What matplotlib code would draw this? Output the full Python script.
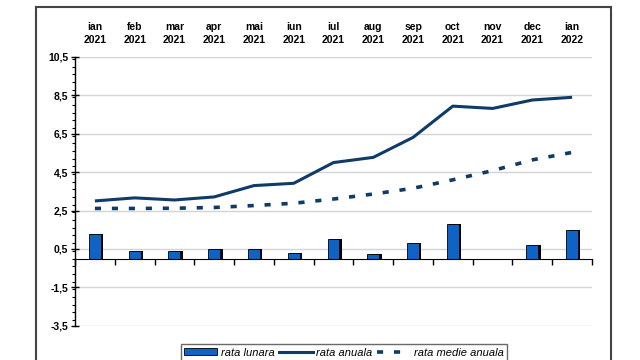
import numpy as np
import matplotlib.pyplot as plt
import matplotlib.patches as mpatches
import matplotlib.lines as mlines
from matplotlib.ticker import MultipleLocator, FixedLocator, NullFormatter
import matplotlib.transforms as mtransforms

plt.rcParams['font.family'] = ['Liberation Sans', 'DejaVu Sans']

# ── Data ──────────────────────────────────────────────────────────────
months = ["ian", "feb", "mar", "apr", "mai", "iun", "iul",
          "aug", "sep", "oct", "nov", "dec", "ian"]
years = ["2021"] * 12 + ["2022"]
rata_lunara = [1.26, 0.40, 0.40, 0.50, 0.50, 0.30, 1.00,
               0.21, 0.80, 1.82, 0.00, 0.70, 1.47]
rata_anuala = [3.00, 3.16, 3.05, 3.21, 3.80, 3.92, 5.00,
               5.27, 6.31, 7.94, 7.82, 8.26, 8.40]
rata_medie = [2.61, 2.61, 2.62, 2.66, 2.76, 2.88, 3.10,
              3.36, 3.66, 4.10, 4.58, 5.14, 5.53]

BAR_BLUE = "#0E63C4"
NAVY = "#0F3B69"
DASH = (0, (1.7, 3.0))

fig = plt.figure(figsize=(6.4, 3.6), dpi=100)
ax = fig.add_axes([75 / 640, 1 - 325.7 / 360, (592 - 75) / 640, (325.7 - 57) / 360])

x = np.arange(len(months))

# ── Grid ──────────────────────────────────────────────────────────────
ax.set_ylim(-3.5, 10.5)
ax.set_xlim(-0.5, len(months) - 0.5)
ax.yaxis.set_major_locator(FixedLocator(np.arange(-3.5, 10.6, 2.0)))
ax.yaxis.set_minor_locator(MultipleLocator(0.4))
ax.grid(axis='y', color='#D4D4D4', lw=1.0, zorder=0)
ax.set_yticklabels([f"{v:.1f}".replace('.', ',') for v in np.arange(-3.5, 10.6, 2.0)],
                   fontsize=7.5, fontweight='bold')
ax.tick_params(axis='y', which='major', direction='inout', length=6, width=1, pad=2)
ax.tick_params(axis='y', which='minor', direction='out', length=2.5, width=0.8)

# ── Bars with shadow ──────────────────────────────────────────────────
ax.bar(x + 0.06, rata_lunara, width=0.3, color='black', zorder=2)
ax.bar(x, rata_lunara, width=0.3, color=BAR_BLUE, edgecolor='black',
       linewidth=0.6, zorder=3)

# ── Lines ─────────────────────────────────────────────────────────────
ax.plot(x, rata_anuala, color=NAVY, lw=2.2, zorder=4, solid_capstyle='butt')
ax.plot(x, rata_medie, color=NAVY, lw=2.6, zorder=4, linestyle=DASH)

# ── Axes / spines ─────────────────────────────────────────────────────
for s in ['top', 'right']:
    ax.spines[s].set_visible(False)
ax.spines['bottom'].set_position(('data', 0))
ax.spines['bottom'].set_zorder(5)
ax.spines['left'].set_linewidth(1)
ax.xaxis.set_major_locator(FixedLocator(np.arange(-0.5, len(months), 1.0)))
ax.xaxis.set_major_formatter(NullFormatter())
ax.tick_params(axis='x', direction='out', length=4, width=1)

# ── Top category labels ───────────────────────────────────────────────
trans = mtransforms.blended_transform_factory(ax.transData, ax.transAxes)
for i, (m, yr) in enumerate(zip(months, years)):
    ax.text(i, 1.087, f"{m}\n{yr}", transform=trans, ha='center', va='center',
            fontsize=7.5, fontweight='bold', linespacing=1.4)

# ── Outer frame ───────────────────────────────────────────────────────
fx0, fx1, fy0 = 36 / 640, 611 / 640, 1 - 7 / 360
for xs, ys in [([fx0, fx1], [fy0, fy0]), ([fx0, fx0], [fy0, -0.1]), ([fx1, fx1], [fy0, -0.1])]:
    fig.add_artist(mlines.Line2D(xs, ys, color='#444444', lw=1.5))

# ── Legend ────────────────────────────────────────────────────────────
handles = [
    mpatches.Patch(facecolor=BAR_BLUE, edgecolor='black', linewidth=0.6, label='rata lunara'),
    mlines.Line2D([], [], color=NAVY, lw=2.2, label='rata anuala'),
    mlines.Line2D([], [], color=NAVY, lw=2.6, linestyle=DASH, label='rata medie anuala'),
]
leg = fig.legend(handles=handles, loc='upper center', ncol=3,
                 bbox_to_anchor=(344 / 640, 1 - 344.3 / 360), borderaxespad=0,
                 prop={'size': 8, 'style': 'italic'}, frameon=True, fancybox=False,
                 edgecolor='#444444', handlelength=3.0, handleheight=0.6,
                 columnspacing=0.45, handletextpad=0.3, borderpad=0.3)
leg.get_frame().set_linewidth(1.0)

fig.savefig("out.png", dpi=100)
